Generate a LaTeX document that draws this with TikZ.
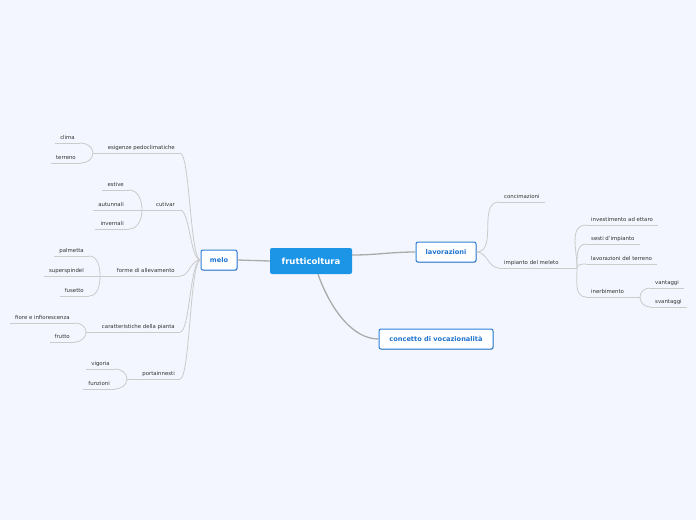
\documentclass[tikz,border=0pt]{standalone}
\usepackage{fontspec}
\setmainfont{DejaVu Sans}
\usetikzlibrary{shadows}
\definecolor{bg}{HTML}{F3F6FE}
\definecolor{mainblue}{HTML}{1C95E7}
\definecolor{nodeborder}{HTML}{2C7FD9}
\definecolor{nodetext}{HTML}{1F73D1}
\definecolor{mainline}{HTML}{ABABAB}
\definecolor{brline}{HTML}{CBCBCB}
\definecolor{leaftext}{HTML}{333333}
\tikzset{
  rootnode/.style={fill=mainblue, text=white, font=\bfseries\fontsize{8.5}{10}\selectfont,
    rounded corners=2pt, minimum width=82pt, minimum height=26pt, inner sep=0pt},
  topicnode/.style={draw=nodeborder, line width=1pt, fill=white, text=nodetext,
    font=\bfseries\fontsize{6.6}{8}\selectfont, rounded corners=2pt, minimum height=20pt,
    inner sep=0pt, drop shadow={shadow xshift=0.6pt, shadow yshift=-0.9pt, fill=black, opacity=0.22}},
  leafnode/.style={text=leaftext, font=\fontsize{5.4}{6}\selectfont, inner xsep=5pt,
    inner ysep=2.8pt, text height=4pt, text depth=1pt},
  uline/.style={draw=brline, line width=0.8pt},
  mainlink/.style={draw=mainline, line width=1.3pt},
  brlink/.style={draw=brline, line width=0.8pt},
}
\begin{document}
\begin{tikzpicture}[x=1pt, y=1pt]
\fill[bg] (0,0) rectangle (696,-520);
\useasboundingbox (0,0) rectangle (696,-520);

% main nodes
\node[rootnode] (fr) at (311,-261) {frutticoltura};
\node[topicnode, minimum width=36pt] (melo) at (219,-260) {melo};
\node[topicnode, minimum width=60pt] (lav) at (446,-252) {lavorazioni};
\node[topicnode, minimum width=114pt] (con) at (436,-339) {concetto di vocazionalità};

% left level 1
\node[leafnode, anchor=south east] (esig) at (180,-153) {esigenze pedoclimatiche};
\node[leafnode, anchor=south east] (cuti) at (180,-210) {cutivar};
\node[leafnode, anchor=south east] (forme) at (180,-276) {forme di allevamento};
\node[leafnode, anchor=south east] (carat) at (180,-332) {caratteristiche della pianta};
\node[leafnode, anchor=south east] (porta) at (180,-379) {portainnesti};

% left level 2
\node[leafnode, anchor=south east] (clima) at (80,-143) {clima};
\node[leafnode, anchor=south east] (terr) at (81,-163) {terreno};
\node[leafnode, anchor=south east] (estive) at (129,-190) {estive};
\node[leafnode, anchor=south east] (autun) at (129,-210) {autunnali};
\node[leafnode, anchor=south east] (inver) at (129,-229) {invernali};
\node[leafnode, anchor=south east] (palm) at (89,-256) {palmetta};
\node[leafnode, anchor=south east] (super) at (89,-276) {superspindel};
\node[leafnode, anchor=south east] (fus) at (89,-296) {fusetto};
\node[leafnode, anchor=south east] (fiore) at (75,-323) {fiore e infiorescenza};
\node[leafnode, anchor=south east] (frutto) at (75,-342) {frutto};
\node[leafnode, anchor=south east] (vig) at (115,-369) {vigoria};
\node[leafnode, anchor=south east] (funz) at (115,-389) {funzioni};

% right side
\node[leafnode, anchor=south west] (conc) at (499,-202) {concimazioni};
\node[leafnode, anchor=south west] (imp) at (499,-268) {impianto del meleto};
\node[leafnode, anchor=south west] (inv) at (586,-225) {investimento ad ettaro};
\node[leafnode, anchor=south west] (sesti) at (586,-244) {sesti d'impianto};
\node[leafnode, anchor=south west] (lavt) at (586,-264) {lavorazioni del terreno};
\node[leafnode, anchor=south west] (iner) at (586,-297) {inerbimento};
\node[leafnode, anchor=south west] (vant) at (650,-288) {vantaggi};
\node[leafnode, anchor=south west] (svant) at (650,-307) {svantaggi};

% underlines
\foreach \n in {esig,cuti,forme,carat,porta,clima,terr,estive,autun,inver,palm,super,fus,fiore,frutto,vig,funz,conc,imp,inv,sesti,lavt,iner,vant,svant}
  \draw[uline] (\n.south west) -- (\n.south east);

% join points
\coordinate (jesig) at (93,-153);
\coordinate (jcuti) at (142,-210);
\coordinate (jforme) at (100,-276);
\coordinate (jcarat) at (86,-332);
\coordinate (jporta) at (127,-379);
\coordinate (jimp) at (577,-268);
\coordinate (jiner) at (640,-297);

% main links
\draw[mainlink] (fr.west) -- (melo.east);
\draw[mainlink] ([yshift=6pt]fr.east) to[out=0,in=180] (lav.west);
\draw[mainlink] ([xshift=7pt]fr.south) .. controls (330,-308) and (352,-339) .. (con.west);

% melo links
\foreach \n/\y in {esig/153,cuti/210,forme/276,carat/332,porta/379}
  \draw[brlink] (melo.west) .. controls (190,-260) and (190,-\y) .. (\n.south east);

% lavorazioni links
\draw[brlink] (lav.east) to[out=0,in=180] (conc.south west);
\draw[brlink] (lav.east) to[out=0,in=180] (imp.south west);

% left brackets
\draw[brlink] (esig.south west) -- (jesig);
\draw[brlink] (jesig) to[out=90,in=0] (clima.south east);
\draw[brlink] (jesig) to[out=-90,in=0] (terr.south east);

\draw[brlink] (cuti.south west) -- (jcuti);
\draw[brlink] (jcuti) to[out=90,in=0] (estive.south east);
\draw[brlink] (jcuti) -- (autun.south east);
\draw[brlink] (jcuti) to[out=-90,in=0] (inver.south east);

\draw[brlink] (forme.south west) -- (jforme);
\draw[brlink] (jforme) to[out=90,in=0] (palm.south east);
\draw[brlink] (jforme) -- (super.south east);
\draw[brlink] (jforme) to[out=-90,in=0] (fus.south east);

\draw[brlink] (carat.south west) -- (jcarat);
\draw[brlink] (jcarat) to[out=90,in=0] (fiore.south east);
\draw[brlink] (jcarat) to[out=-90,in=0] (frutto.south east);

\draw[brlink] (porta.south west) -- (jporta);
\draw[brlink] (jporta) to[out=90,in=0] (vig.south east);
\draw[brlink] (jporta) to[out=-90,in=0] (funz.south east);

% right brackets
\draw[brlink] (imp.south east) -- (jimp);
\draw[brlink] (jimp) to[out=90,in=180] (inv.south west);
\draw[brlink] (jimp) to[out=90,in=180] (sesti.south west);
\draw[brlink] (jimp) to[out=90,in=180] (lavt.south west);
\draw[brlink] (jimp) to[out=-90,in=180] (iner.south west);

\draw[brlink] (iner.south east) -- (jiner);
\draw[brlink] (jiner) to[out=90,in=180] (vant.south west);
\draw[brlink] (jiner) to[out=-90,in=180] (svant.south west);
\end{tikzpicture}
\end{document}
